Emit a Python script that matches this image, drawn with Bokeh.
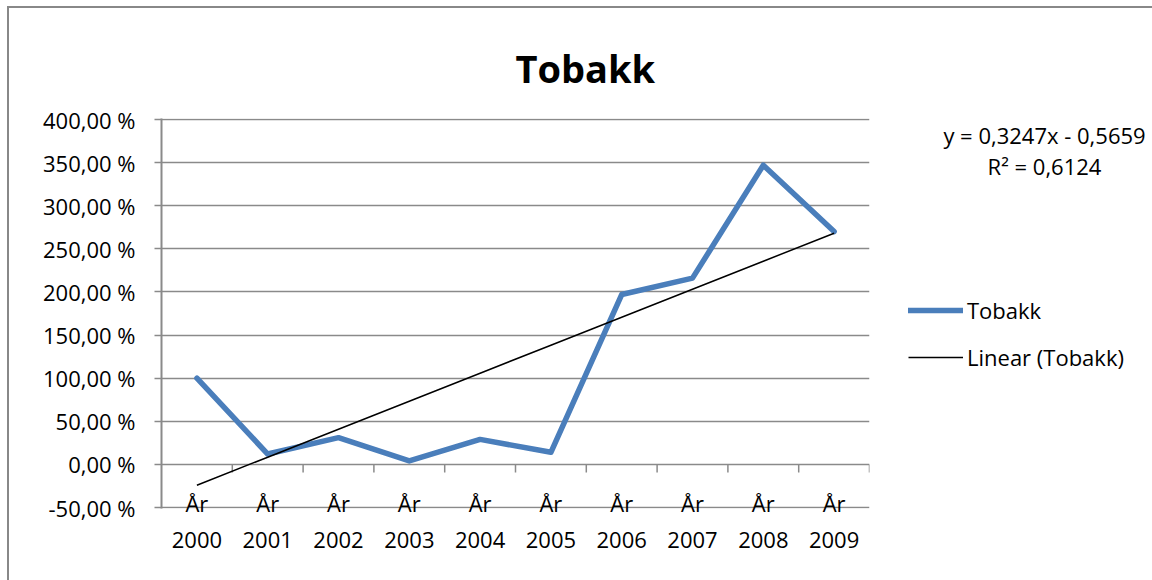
import math
from bokeh.plotting import figure
from bokeh.layouts import row
from bokeh.models import (Range1d, FixedTicker, CustomJSTickFormatter, Legend, LegendItem,
                          Label, LinearAxis, Title)
from bokeh.embed import file_html
from bokeh.resources import INLINE

# ---- data ----
years = ["2000", "2001", "2002", "2003", "2004", "2005", "2006", "2007", "2008", "2009"]
year_prefix = "År"
tobakk = [1.00, 0.12, 0.31, 0.04, 0.29, 0.14, 1.97, 2.16, 3.47, 2.70]
trend_slope = 0.3247
trend_intercept = -0.5659
trend_r2 = 0.6124
y_ticks = [-0.5, 0.0, 0.5, 1.0, 1.5, 2.0, 2.5, 3.0, 3.5, 4.0]
title_text = "Tobakk"
series_name = "Tobakk"
trend_name = "Linear (Tobakk)"

idx = list(range(1, len(years) + 1))
trend = [trend_slope * i + trend_intercept for i in idx]

FONT = "Open Sans"
GRID = "#8a8a8a"
BLUE = "#4a7ebb"
FS = "22px"

W_MAIN, W_SIDE, H = 890, 262, 580
TOP, BOTTOM = 118, 72
pad = 4.5 / 388.0  # one pixel in data units, so edge gridlines stay inside the frame

p = figure(width=W_MAIN, height=H,
           x_range=Range1d(0.5, len(years) + 0.5),
           y_range=Range1d(y_ticks[0] - pad, y_ticks[-1] + pad),
           output_backend="svg", toolbar_location=None,
           min_border_left=161, min_border_right=21,
           min_border_top=TOP, min_border_bottom=BOTTOM)
p.styles = {"background": "linear-gradient(#888888,#888888) 7px 6px / 2px 100% no-repeat, "
                          "linear-gradient(#888888,#888888) 7px 6px / 100% 2px no-repeat, white"}
p.border_fill_color = None
p.background_fill_color = "white"
p.outline_line_color = None

# title
p.title = Title(text=title_text, align="left", offset=354, standoff=46,
                vertical_align="top",
                text_font=FONT, text_font_size="38px", text_font_style="bold",
                text_color="black")

# grid
p.xgrid.visible = False
p.ygrid.ticker = FixedTicker(ticks=y_ticks)
p.ygrid.grid_line_color = GRID
p.ygrid.grid_line_width = 1.5

# y axis
p.yaxis.ticker = FixedTicker(ticks=y_ticks)
p.yaxis.formatter = CustomJSTickFormatter(
    code="return (tick*100).toFixed(2).replace('.', ',') + ' %';")
p.yaxis.axis_line_color = GRID
p.yaxis.axis_line_width = 2
p.yaxis.major_tick_line_color = GRID
p.yaxis.major_tick_line_width = 1.5
p.yaxis.major_tick_out = 7
p.yaxis.major_tick_in = 0
p.yaxis.minor_tick_line_color = None
p.yaxis.major_label_standoff = 19
p.yaxis.major_label_text_font = FONT
p.yaxis.major_label_text_font_size = FS
p.yaxis.major_label_text_color = "black"

# x axis, first line of the category labels ("År")
xa = p.xaxis[0]
xa.ticker = FixedTicker(ticks=idx)
xa.major_label_overrides = {i: year_prefix for i in idx}
xa.axis_line_color = None
xa.major_tick_line_color = None
xa.minor_tick_line_color = None
xa.major_tick_out = 0
xa.major_label_standoff = -21
xa.major_label_text_font = FONT
xa.major_label_text_font_size = FS
xa.major_label_text_color = "black"

# x axis, second line of the category labels (years)
xb = LinearAxis(ticker=FixedTicker(ticks=idx),
                major_label_overrides={i: y for i, y in zip(idx, years)},
                axis_line_color=None, major_tick_line_color=None,
                minor_tick_line_color=None, major_tick_out=0,
                major_label_standoff=11, major_label_text_font=FONT,
                major_label_text_font_size=FS, major_label_text_color="black")
p.add_layout(xb, "below")

# category axis tick marks at y = 0
p.ray(x=[i + 0.5 for i in idx], y=[0.0] * len(idx), length=8, length_units="screen",
      angle=-math.pi / 2, line_color=GRID, line_width=1.5)

# series
p.line(idx, tobakk, line_color=BLUE, line_width=5.5, line_join="round", line_cap="round")
p.line(idx, trend, line_color="black", line_width=1.5)

# ---- right-hand side: legend and trendline equation ----
# its frame is aligned with the main frame; data units equal page pixels there
s = figure(width=W_SIDE, height=H, x_range=Range1d(W_MAIN, W_MAIN + W_SIDE),
           y_range=Range1d(H - BOTTOM, TOP), x_axis_type=None, y_axis_type=None,
           output_backend="svg", toolbar_location=None,
           min_border_left=0, min_border_right=0, min_border_top=TOP, min_border_bottom=BOTTOM)
s.styles = {"background": "linear-gradient(#888888,#888888) 0px 6px / 100% 2px no-repeat, white"}
s.border_fill_color = None
s.background_fill_color = None
s.outline_line_color = None
s.grid.visible = False

nan = float("nan")
g1 = s.line(x=[nan], y=[nan], line_color=BLUE, line_width=5.5, line_cap="round")
g2 = s.line(x=[nan], y=[nan], line_color="black", line_width=1.5)
legend = Legend(items=[LegendItem(label=series_name, renderers=[g1]),
                       LegendItem(label=trend_name, renderers=[g2])],
                location=(18, 136), glyph_width=55, glyph_height=24,
                label_height=24, label_standoff=4, spacing=17, padding=0, margin=0,
                border_line_color=None, background_fill_alpha=0,
                label_text_font=FONT, label_text_font_size=FS,
                label_text_color="black")
s.add_layout(legend)

eq1 = "y = {:.4f}x - {:.4f}".format(trend_slope, abs(trend_intercept)).replace(".", ",")
eq2 = "R² = {:.4f}".format(trend_r2).replace(".", ",")
s.add_layout(Label(x=1044, y=134, text=eq1, text_align="center", text_baseline="middle",
                   text_font=FONT, text_font_size=FS, text_color="black"))
s.add_layout(Label(x=1044, y=165, text=eq2, text_align="center", text_baseline="middle",
                   text_font=FONT, text_font_size=FS, text_color="black"))

layout = row(p, s, spacing=0)
open("out.html", "w").write(file_html(layout, INLINE))
